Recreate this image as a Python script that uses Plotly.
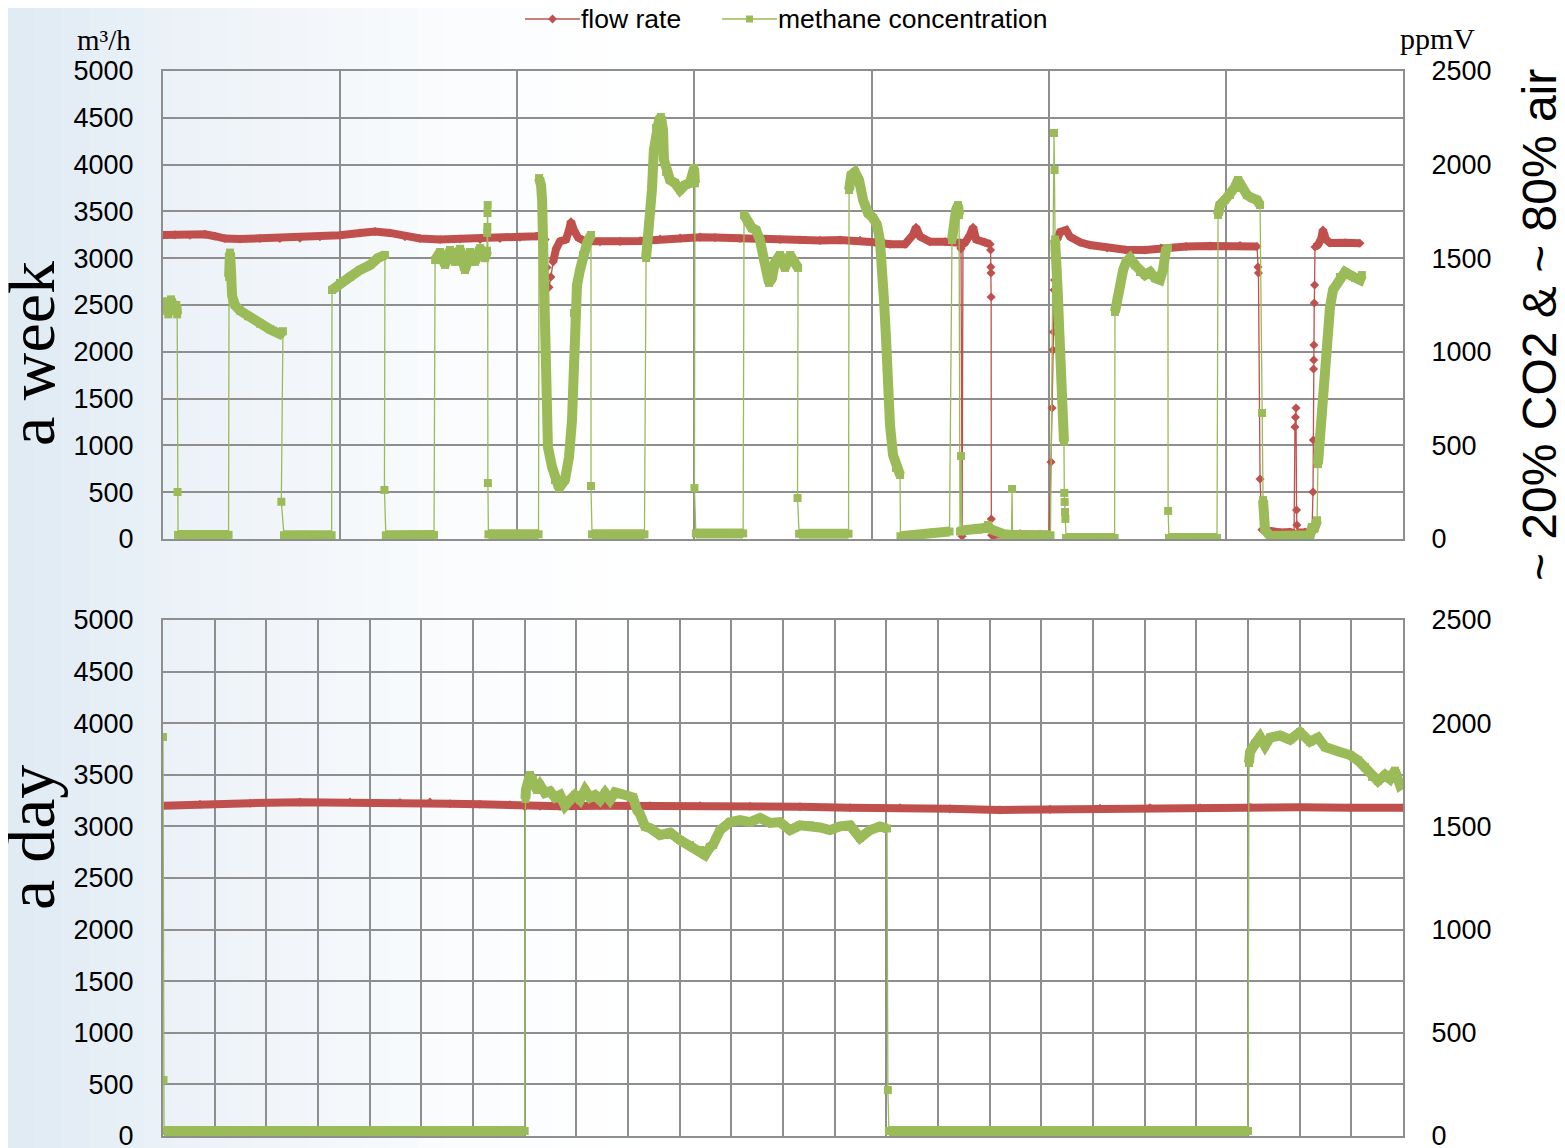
import plotly.graph_objects as go

# ---------------- DATA ----------------
# Top chart ("a week"): time in days, flow in m3/h, methane in ppmV
# Each series is a list of runs: ("dense", points) are continuous recordings,
# ("sparse", points) are isolated readings during fast transitions.
WEEK_FLOW = [
    ("dense", [(0.000, 3248), (0.068, 3250), (0.152, 3245), (0.237, 3255), (0.294, 3235),
               (0.350, 3210), (0.435, 3205), (0.548, 3210), (0.660, 3210), (0.773, 3215),
               (0.886, 3230), (0.999, 3245), (1.112, 3270), (1.197, 3285), (1.281, 3270),
               (1.366, 3230), (1.451, 3210), (1.564, 3200), (1.677, 3205), (1.790, 3200),
               (1.902, 3210), (2.015, 3225), (2.106, 3235), (2.140, 3240), (2.157, 3200)]),
    ("sparse", [(2.168, 2900), (2.179, 2690), (2.190, 2800)]),
    ("dense", [(2.202, 2960), (2.219, 3100), (2.241, 3180), (2.275, 3200), (2.292, 3300),
               (2.303, 3390), (2.320, 3300), (2.343, 3220), (2.382, 3180), (2.467, 3175),
               (2.580, 3180), (2.693, 3185), (2.806, 3205), (2.919, 3215), (3.032, 3225),
               (3.116, 3220), (3.257, 3210), (3.370, 3200), (3.483, 3200), (3.596, 3195),
               (3.709, 3190), (3.822, 3195), (3.935, 3190), (4.019, 3170), (4.104, 3150),
               (4.189, 3150), (4.234, 3250), (4.251, 3330), (4.274, 3230), (4.330, 3175),
               (4.415, 3175), (4.499, 3165), (4.505, 3100)]),
    ("sparse", [(4.511, 30)]),
    ("dense", [(4.516, 3150), (4.528, 3165), (4.556, 3250), (4.573, 3330), (4.590, 3200),
               (4.640, 3170), (4.669, 3150)]),
    ("sparse", [(4.672, 3087), (4.673, 2906), (4.674, 2842), (4.675, 2585), (4.676, 213)]),
    ("dense", [(4.678, 40), (4.725, 50), (4.782, 40), (4.838, 55), (4.894, 45), (4.951, 50),
               (5.002, 45)]),
    ("sparse", [(5.013, 823), (5.019, 1400), (5.024, 2019), (5.027, 2211), (5.030, 2660),
                (5.033, 2767), (5.036, 3087), (5.041, 2900)]),
    ("dense", [(5.047, 3200), (5.064, 3280), (5.081, 3290), (5.098, 3301), (5.120, 3230),
               (5.177, 3170), (5.233, 3141), (5.329, 3109), (5.431, 3090), (5.544, 3087),
               (5.634, 3109), (5.775, 3125), (5.911, 3130), (6.080, 3135), (6.176, 3125)]),
    ("sparse", [(6.181, 2906), (6.184, 2842), (6.193, 641)]),
    ("dense", [(6.204, 100), (6.249, 80), (6.306, 70), (6.362, 75), (6.385, 60)]),
    ("sparse", [(6.390, 1197), (6.393, 1300), (6.396, 1400), (6.399, 310), (6.401, 150)]),
    ("dense", [(6.407, 70), (6.447, 75), (6.486, 70)]),
    ("sparse", [(6.492, 502), (6.494, 1058), (6.495, 1816), (6.496, 1912), (6.497, 2073),
                (6.499, 2521), (6.501, 2714)]),
    ("dense", [(6.503, 3120), (6.520, 3141), (6.537, 3200), (6.548, 3301), (6.565, 3200),
               (6.588, 3162), (6.673, 3165), (6.757, 3160)]),
]

WEEK_CH4 = [
    ("dense", [(0.000, 1230), (0.015, 1270), (0.030, 1200), (0.045, 1280), (0.060, 1230),
               (0.075, 1250), (0.080, 1200)]),
    ("sparse", [(0.082, 251)]),
    ("dense", [(0.085, 22), (0.200, 25), (0.300, 20), (0.370, 22)]),
    ("dense", [(0.373, 1400), (0.378, 1530), (0.383, 1450), (0.390, 1300), (0.406, 1250),
               (0.435, 1220), (0.480, 1190), (0.548, 1150), (0.604, 1120), (0.660, 1095),
               (0.677, 1110)]),
    ("sparse", [(0.668, 199)]),
    ("dense", [(0.683, 20), (0.800, 22), (0.952, 20)]),
    ("dense", [(0.954, 1330), (0.999, 1368), (1.056, 1400), (1.112, 1437), (1.169, 1464),
               (1.214, 1501), (1.253, 1517)]),
    ("sparse", [(1.250, 262)]),
    ("dense", [(1.258, 20), (1.400, 24), (1.530, 22)]),
    ("dense", [(1.536, 1490), (1.564, 1533), (1.592, 1464), (1.620, 1544), (1.649, 1480),
               (1.677, 1550), (1.705, 1437), (1.733, 1533), (1.761, 1480), (1.790, 1554),
               (1.818, 1500), (1.829, 1540)]),
    ("sparse", [(1.830, 1635), (1.831, 1667), (1.832, 1741), (1.833, 1784), (1.834, 299)]),
    ("dense", [(1.837, 25), (2.000, 24), (2.120, 25)]),
    ("dense", [(2.123, 1928), (2.134, 1890), (2.140, 1811), (2.145, 1650), (2.151, 1490),
               (2.157, 1277), (2.162, 1010), (2.168, 673), (2.173, 491), (2.196, 385),
               (2.213, 315), (2.236, 272), (2.269, 315), (2.292, 438), (2.309, 636),
               (2.315, 849), (2.320, 1207), (2.337, 1357), (2.354, 1437), (2.371, 1517),
               (2.394, 1581), (2.416, 1624)]),
    ("sparse", [(2.416, 283)]),
    ("dense", [(2.422, 25), (2.600, 24), (2.718, 25)]),
    ("dense", [(2.727, 1501), (2.738, 1597), (2.748, 1731), (2.760, 1864), (2.771, 2078),
               (2.783, 2196), (2.800, 2238), (2.811, 2254), (2.823, 2185), (2.828, 2025),
               (2.840, 1961), (2.862, 1918), (2.890, 1902), (2.919, 1864), (2.947, 1891),
               (2.975, 1902), (2.998, 1982), (3.003, 1900)]),
    ("sparse", [(3.000, 272)]),
    ("dense", [(3.008, 30), (3.150, 28), (3.275, 30)]),
    ("dense", [(3.280, 1731), (3.303, 1693), (3.325, 1661), (3.348, 1650), (3.370, 1597),
               (3.387, 1517), (3.404, 1437), (3.421, 1368), (3.438, 1394), (3.455, 1480),
               (3.483, 1517), (3.511, 1448), (3.540, 1517), (3.568, 1480), (3.585, 1448)]),
    ("sparse", [(3.582, 219)]),
    ("dense", [(3.591, 28), (3.750, 30), (3.870, 28)]),
    ("dense", [(3.873, 1864), (3.885, 1944), (3.906, 1960), (3.929, 1918), (3.952, 1811),
               (3.980, 1741), (4.008, 1715), (4.031, 1677), (4.047, 1597), (4.059, 1480),
               (4.070, 1277), (4.082, 1063), (4.093, 743), (4.104, 609), (4.121, 449),
               (4.138, 379), (4.161, 342)]),
    ("dense", [(4.163, 15), (4.250, 25), (4.350, 35), (4.440, 40)]),
    ("dense", [(4.454, 1597), (4.465, 1704), (4.477, 1757), (4.488, 1784), (4.494, 1730)]),
    ("sparse", [(4.499, 40), (4.505, 443)]),
    ("dense", [(4.508, 45), (4.600, 50), (4.650, 60), (4.657, 75), (4.665, 55), (4.750, 25),
               (4.790, 22)]),
    ("sparse", [(4.793, 267)]),
    ("dense", [(4.796, 22), (4.900, 20), (5.010, 20)]),
    ("sparse", [(5.030, 2169), (5.033, 1971)]),
    ("dense", [(5.036, 1600), (5.041, 1550), (5.047, 1450), (5.052, 1300), (5.058, 1150),
               (5.064, 1000), (5.069, 850), (5.075, 700), (5.081, 600), (5.086, 520)]),
    ("sparse", [(5.088, 246), (5.090, 198), (5.092, 144), (5.094, 107)]),
    ("dense", [(5.098, 5), (5.250, 5), (5.372, 5)]),
    ("dense", [(5.374, 1213), (5.385, 1277), (5.403, 1357), (5.420, 1437), (5.437, 1480),
               (5.459, 1501), (5.487, 1464), (5.515, 1426), (5.544, 1410), (5.572, 1426),
               (5.600, 1394), (5.628, 1384), (5.645, 1437), (5.662, 1544), (5.673, 1554)]),
    ("sparse", [(5.674, 150)]),
    ("dense", [(5.679, 5), (5.800, 5), (5.950, 5)]),
    ("dense", [(5.956, 1731), (5.967, 1784), (5.995, 1811), (6.023, 1838), (6.052, 1880),
               (6.069, 1918), (6.091, 1875), (6.119, 1838), (6.147, 1822), (6.176, 1811),
               (6.193, 1784)]),
    ("sparse", [(6.204, 673)]),
    ("dense", [(6.210, 208), (6.215, 130), (6.221, 48), (6.250, 16), (6.350, 16),
               (6.475, 20), (6.486, 59), (6.500, 59), (6.515, 100)]),
    ("dense", [(6.520, 400), (6.531, 545), (6.543, 700), (6.548, 760), (6.554, 810),
               (6.560, 865), (6.565, 956), (6.577, 1116), (6.588, 1240), (6.605, 1330),
               (6.644, 1400), (6.673, 1426), (6.701, 1410), (6.729, 1394), (6.757, 1384),
               (6.768, 1410)]),
]

# Bottom chart ("a day"): time in hours
DAY_FLOW = [
    ("dense", [(0.000, 3200), (0.716, 3215), (1.684, 3225), (2.652, 3235), (3.619, 3235),
               (4.587, 3230), (5.168, 3235), (5.555, 3220), (6.135, 3215), (6.716, 3210),
               (7.006, 3190), (7.297, 3195), (7.684, 3195), (8.458, 3200), (9.426, 3200),
               (10.394, 3200), (11.361, 3195), (12.329, 3190), (13.297, 3180), (14.265, 3180),
               (15.232, 3170), (16.200, 3160), (17.168, 3165), (18.135, 3175), (19.103, 3180),
               (20.071, 3180), (21.039, 3185), (22.006, 3185), (22.974, 3180), (24.000, 3180)]),
]

DAY_CH4 = [
    ("sparse", [(0.000, 1933), (0.010, 271)]),
    ("dense", [(0.020, 24), (3.000, 24), (6.000, 26), (7.000, 24)]),
    ("dense", [(7.015, 1633), (7.026, 1680), (7.103, 1749), (7.161, 1725), (7.239, 1676),
               (7.297, 1700), (7.394, 1662), (7.490, 1670), (7.587, 1640), (7.684, 1652),
               (7.781, 1600), (7.877, 1628), (7.974, 1652), (8.071, 1628), (8.168, 1676),
               (8.265, 1640), (8.361, 1652), (8.458, 1628), (8.555, 1662), (8.652, 1628),
               (8.748, 1665), (8.942, 1652), (9.097, 1640), (9.174, 1580), (9.232, 1560),
               (9.329, 1500), (9.426, 1492), (9.619, 1458), (9.813, 1470), (10.006, 1434),
               (10.200, 1410), (10.394, 1386), (10.490, 1361), (10.587, 1400), (10.645, 1410),
               (10.781, 1482), (10.974, 1521), (11.168, 1531), (11.361, 1521), (11.555, 1541),
               (11.748, 1517), (11.942, 1521), (12.135, 1482), (12.329, 1505), (12.523, 1505),
               (12.716, 1495), (12.910, 1482), (13.103, 1500), (13.297, 1505), (13.490, 1444),
               (13.684, 1482), (13.877, 1500), (14.013, 1490)]),
    ("sparse", [(14.030, 223)]),
    ("dense", [(14.050, 24), (17.000, 26), (20.000, 25), (21.000, 24)]),
    ("dense", [(21.019, 1807), (21.039, 1860), (21.135, 1900), (21.232, 1933), (21.329, 1890),
               (21.426, 1930), (21.619, 1940), (21.813, 1920), (22.006, 1957), (22.200, 1910),
               (22.355, 1930), (22.491, 1885), (22.781, 1860), (22.974, 1846), (23.129, 1820),
               (23.265, 1788), (23.400, 1740), (23.516, 1720), (23.652, 1750), (23.748, 1730),
               (23.845, 1770), (23.942, 1700), (24.000, 1710)]),
]

FLOW_TICKS = [0, 500, 1000, 1500, 2000, 2500, 3000, 3500, 4000, 4500, 5000]
PPM_TICKS = [0, 500, 1000, 1500, 2000, 2500]
SERIES_NAMES = ["flow rate", "methane concentration"]

# ---------------- STYLE ----------------
RED = "#C0504D"
GREEN = "#9BBB59"
GRID = "#8E8E8E"
SANS = "Arial, Liberation Sans, sans-serif"
SERIF = "Times New Roman, Liberation Serif, serif"

# page body has an 8 px margin: the figure starts at (8, 8) in the window
OFF = 8
W, H = 1565 - OFF, 1148 - OFF


def px(X):
    return (X - OFF) / W


def py(Y):
    return 1 - (Y - OFF) / H


def unpack(runs):
    all_t, all_v, band_t, band_v = [], [], [], []
    for kind, pts in runs:
        for t, v in pts:
            all_t.append(t)
            all_v.append(v)
        if kind == "dense":
            for t, v in pts:
                band_t.append(t)
                band_v.append(v)
            band_t.append(None)
            band_v.append(None)
    return all_t, all_v, band_t, band_v


fig = go.Figure()


def add_series(runs, xa, ya, color, width, symbol, msize, name):
    t, v, bt, bv = unpack(runs)
    fig.add_trace(go.Scatter(x=bt, y=bv, xaxis=xa, yaxis=ya, mode="lines",
                             line=dict(color=color, width=width), showlegend=False,
                             hoverinfo="skip", connectgaps=False))
    fig.add_trace(go.Scatter(x=t, y=v, xaxis=xa, yaxis=ya, mode="lines+markers",
                             name=name, showlegend=False,
                             line=dict(color=color, width=1.3),
                             marker=dict(symbol=symbol, size=msize, color=color)))


add_series(WEEK_FLOW, "x", "y", RED, 8, "diamond", 7, SERIES_NAMES[0])
add_series(WEEK_CH4, "x", "y2", GREEN, 10, "square", 8, SERIES_NAMES[1])
add_series(DAY_FLOW, "x2", "y3", RED, 8, "diamond", 7, SERIES_NAMES[0])
add_series(DAY_CH4, "x2", "y4", GREEN, 10, "square", 8, SERIES_NAMES[1])

XDOM = [px(163), px(1403)]
TOP_DOM = [py(539), py(71)]
BOT_DOM = [py(1136), py(620)]

TICKFONT = dict(family=SANS, size=27, color="black")
xcommon = dict(showticklabels=False, showgrid=True, gridcolor=GRID, gridwidth=2,
               showline=True, linecolor=GRID, linewidth=2, mirror=True, zeroline=False,
               ticks="", domain=XDOM, tick0=0, dtick=1, automargin=False)
ycommon = dict(showgrid=True, gridcolor=GRID, gridwidth=2, showline=True, linecolor=GRID,
               linewidth=2, mirror=True, zeroline=False, ticks="outside", ticklen=22,
               tickcolor="rgba(0,0,0,0)", tickfont=TICKFONT, automargin=False,
               ticklabeloverflow="allow")
y2common = dict(showgrid=False, zeroline=False, showline=False, ticks="outside", ticklen=22,
                tickcolor="rgba(0,0,0,0)", tickfont=TICKFONT, side="right", automargin=False,
                ticklabeloverflow="allow")

fig.update_layout(
    xaxis=dict(xcommon, range=[0, 7], anchor="y"),
    yaxis=dict(ycommon, domain=TOP_DOM, range=[0, 5000], tickvals=FLOW_TICKS, anchor="x"),
    yaxis2=dict(y2common, overlaying="y", range=[0, 2500], tickvals=PPM_TICKS, anchor="x"),
    xaxis2=dict(xcommon, range=[0, 24], anchor="y3"),
    yaxis3=dict(ycommon, domain=BOT_DOM, range=[0, 5000], tickvals=FLOW_TICKS, anchor="x2"),
    yaxis4=dict(y2common, overlaying="y3", range=[0, 2500], tickvals=PPM_TICKS, anchor="x2"),
)

# faint bluish backdrop fading from the left edge
shapes = []
n = 24
for i in range(n):
    x0 = i * 0.42 / n
    x1 = (i + 1) * 0.42 / n
    op = 0.75 * (1 - i / n) ** 1.6
    shapes.append(dict(type="rect", xref="paper", yref="paper", x0=x0, x1=x1, y0=0, y1=1,
                       fillcolor="rgb(214,228,240)", opacity=op, line=dict(width=0),
                       layer="below"))

# legend drawn as line sample + symbol + text
LEG_Y = 19


def legend_entry(x_start, x_end, color, kind):
    cx = (x_start + x_end) / 2
    out = [dict(type="line", xref="paper", yref="paper", x0=px(x_start), x1=px(x_end),
                y0=py(LEG_Y), y1=py(LEG_Y), line=dict(color=color, width=1.6))]
    if kind == "diamond":
        r = 4.5
        path = "M {a},{b} L {c},{d} L {e},{f} L {g},{h} Z".format(
            a=px(cx - r), b=py(LEG_Y), c=px(cx), d=py(LEG_Y - r),
            e=px(cx + r), f=py(LEG_Y), g=px(cx), h=py(LEG_Y + r))
        out.append(dict(type="path", xref="paper", yref="paper", path=path,
                        fillcolor=color, line=dict(width=0)))
    else:
        r = 3.5
        out.append(dict(type="rect", xref="paper", yref="paper", x0=px(cx - r),
                        x1=px(cx + r), y0=py(LEG_Y + r), y1=py(LEG_Y - r),
                        fillcolor=color, line=dict(width=0)))
    return out


shapes += legend_entry(525, 580, RED, "diamond")
shapes += legend_entry(722, 777, GREEN, "square")


def label(text, X, Y, family, size, angle=0, xanchor="center"):
    return dict(text=text, x=px(X), y=py(Y), xref="paper", yref="paper", showarrow=False,
                xanchor=xanchor, yanchor="middle", textangle=angle, borderpad=0,
                font=dict(family=family, size=size, color="black"))


annotations = [
    label(SERIES_NAMES[0], 580, 19, SANS, 26.5, xanchor="left"),
    label(SERIES_NAMES[1], 777, 19, SANS, 26.5, xanchor="left"),
    label("m³/h", 104, 40, SERIF, 29),
    label("ppmV", 1437, 39, SERIF, 30),
    label("a week", 31, 354, SERIF, 66, -90),
    label("a day", 31, 838, SERIF, 68, -90),
    label("~ 20% CO2 &amp; ~ 80% air", 1539, 325, SANS, 48, -90),
]

fig.update_layout(
    width=W, height=H,
    margin=dict(l=0, r=0, t=0, b=0, pad=0, autoexpand=False),
    paper_bgcolor="white", plot_bgcolor="rgba(0,0,0,0)",
    shapes=shapes, annotations=annotations,
    showlegend=False,
    hovermode=False,
)

fig.write_html("out.html")
